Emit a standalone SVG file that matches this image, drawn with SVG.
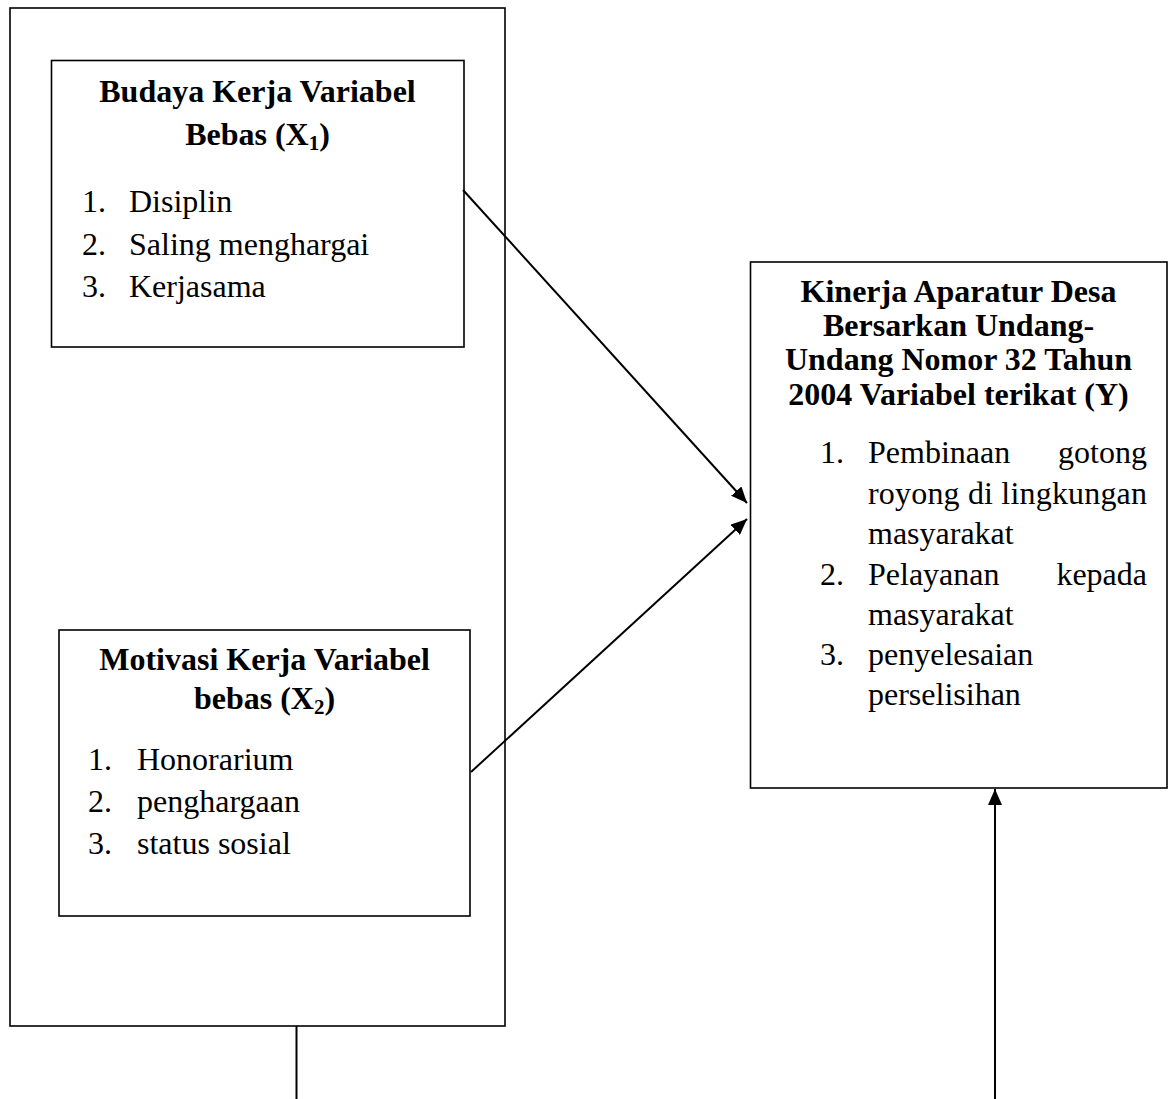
<svg xmlns="http://www.w3.org/2000/svg" width="1174" height="1099" viewBox="0 0 1174 1099">
<style>
.box{fill:none;stroke:#000;stroke-width:1.6}
.t{font-family:"Liberation Serif","Times New Roman",serif;font-size:32px;fill:#000}
.b{font-weight:bold}
.c{text-anchor:middle}
.e{text-anchor:end}
.con{stroke:#000;stroke-width:2;fill:none}
</style>
<defs>
<marker id="ah" markerUnits="userSpaceOnUse" markerWidth="18" markerHeight="14" refX="16" refY="7" orient="auto">
<path d="M0,0 L16,7 L0,14 z" fill="#000"/>
</marker>
</defs>
<rect width="1174" height="1099" fill="#fff"/>
<g id="outer">
<rect class="box" x="10" y="8" width="495" height="1018"/>
</g>
<g id="x1">
<rect class="box" x="51.5" y="60.5" width="412.5" height="286.5"/>
<text class="t b c" x="257.5" y="102">Budaya Kerja Variabel</text>
<text class="t b c" x="257.5" y="145">Bebas (X<tspan font-size="21" dy="5">1</tspan><tspan dy="-5">)</tspan></text>
<text class="t" x="82" y="212">1.</text><text class="t" x="129" y="212">Disiplin</text>
<text class="t" x="82" y="254.5">2.</text><text class="t" x="129" y="254.5">Saling menghargai</text>
<text class="t" x="82" y="297">3.</text><text class="t" x="129" y="297">Kerjasama</text>
</g>
<g id="x2">
<rect class="box" x="59" y="630" width="411" height="286"/>
<text class="t b c" x="264.5" y="670">Motivasi Kerja Variabel</text>
<text class="t b c" x="264.5" y="709">bebas (X<tspan font-size="21" dy="5">2</tspan><tspan dy="-5">)</tspan></text>
<text class="t" x="88" y="770">1.</text><text class="t" x="137" y="770">Honorarium</text>
<text class="t" x="88" y="812">2.</text><text class="t" x="137" y="812">penghargaan</text>
<text class="t" x="88" y="854">3.</text><text class="t" x="137" y="854">status sosial</text>
</g>
<g id="y">
<rect class="box" x="750.5" y="262" width="416.5" height="526"/>
<text class="t b c" x="958.5" y="302">Kinerja Aparatur Desa</text>
<text class="t b c" x="958.5" y="336">Bersarkan Undang-</text>
<text class="t b c" x="958.5" y="370">Undang Nomor 32 Tahun</text>
<text class="t b c" x="958.5" y="405">2004 Variabel terikat (Y)</text>
<text class="t" x="820" y="463">1.</text><text class="t" x="868" y="463">Pembinaan</text><text class="t e" x="1147" y="463">gotong</text>
<text class="t" x="868" y="503.5" textLength="279" lengthAdjust="spacing">royong di lingkungan</text>
<text class="t" x="868" y="544">masyarakat</text>
<text class="t" x="820" y="584.5">2.</text><text class="t" x="868" y="584.5">Pelayanan</text><text class="t e" x="1147" y="584.5">kepada</text>
<text class="t" x="868" y="625">masyarakat</text>
<text class="t" x="820" y="665">3.</text><text class="t" x="868" y="665">penyelesaian</text>
<text class="t" x="868" y="705">perselisihan</text>
</g>
<g id="connectors">
<line class="con" x1="463" y1="190" x2="747" y2="503" marker-end="url(#ah)"/>
<line class="con" x1="471" y1="772" x2="747" y2="519" marker-end="url(#ah)"/>
<line class="con" x1="995" y1="1099" x2="995" y2="789" marker-end="url(#ah)"/>
<line class="con" x1="296.5" y1="1026" x2="296.5" y2="1099"/>
</g>
</svg>
